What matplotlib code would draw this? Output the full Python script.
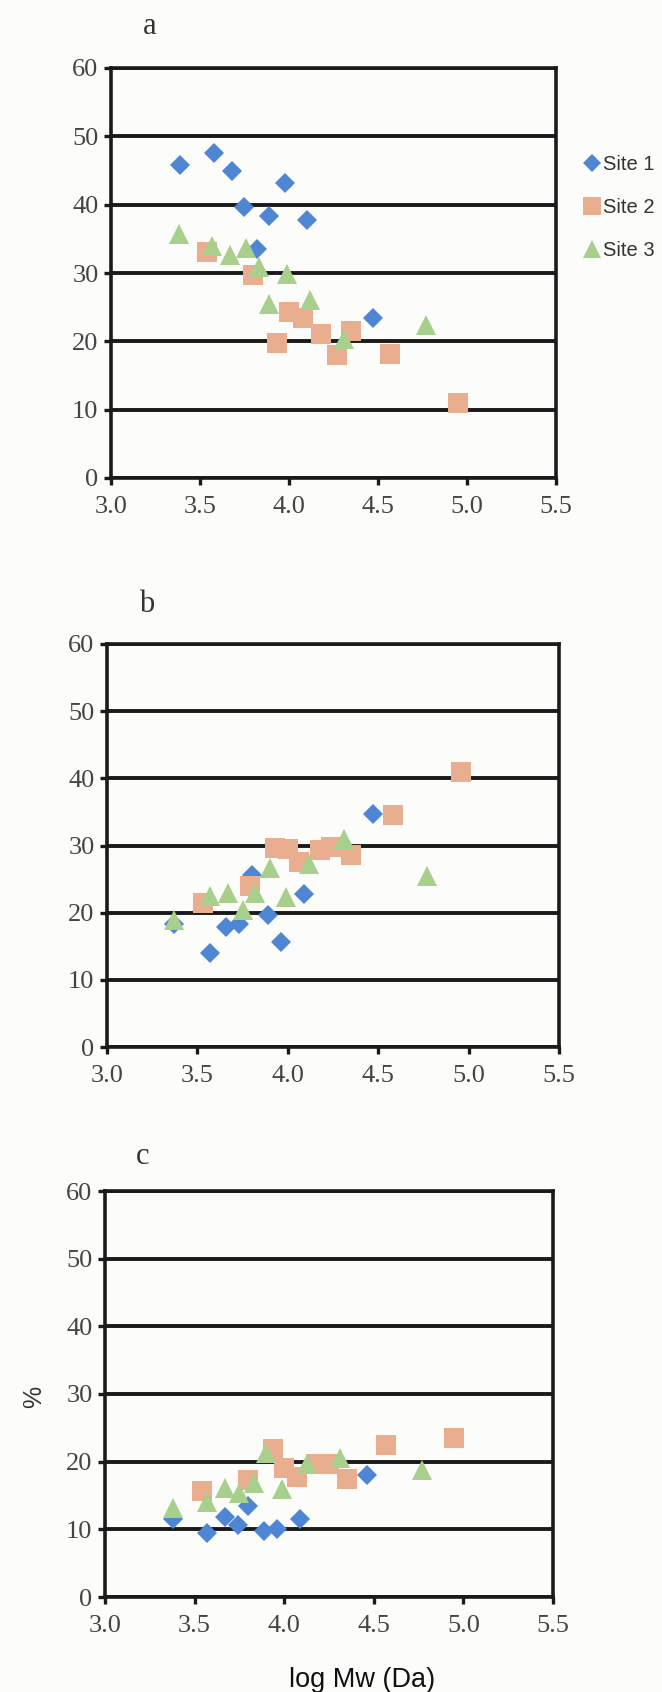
import numpy as np
import matplotlib
matplotlib.use("Agg")
import matplotlib.pyplot as plt

# log Mw (Da) and % for each site, one set per panel
a_site1_x = [3.39, 3.58, 3.68, 3.75, 3.89, 3.98, 4.10, 3.82, 4.47]
a_site1_y = [45.8, 47.5, 44.9, 39.6, 38.4, 43.2, 37.7, 33.5, 23.4]
a_site2_x = [3.54, 3.80, 3.93, 4.00, 4.08, 4.18, 4.27, 4.35, 4.57, 4.95]
a_site2_y = [33.0, 29.7, 19.8, 24.3, 23.4, 21.0, 18.0, 21.5, 18.1, 11.0]
a_site3_x = [3.38, 3.57, 3.67, 3.76, 3.83, 3.99, 3.89, 4.12, 4.31, 4.77]
a_site3_y = [35.7, 34.0, 32.7, 33.6, 30.9, 29.8, 25.5, 26.0, 20.3, 22.4]

b_site1_x = [3.37, 3.57, 3.66, 3.73, 3.80, 3.89, 3.96, 4.09, 4.47]
b_site1_y = [18.3, 14.0, 17.9, 18.3, 25.6, 19.7, 15.7, 22.8, 34.7]
b_site2_x = [3.53, 3.79, 3.93, 4.00, 4.06, 4.18, 4.24, 4.35, 4.58, 4.96]
b_site2_y = [21.4, 23.9, 29.7, 29.5, 27.6, 29.4, 29.8, 28.6, 34.6, 41.0]
b_site3_x = [3.37, 3.57, 3.67, 3.75, 3.82, 3.90, 3.99, 4.12, 4.31, 4.77]
b_site3_y = [18.9, 22.5, 22.9, 20.4, 22.9, 26.6, 22.4, 27.2, 31.0, 25.4]

c_site1_x = [3.38, 3.57, 3.67, 3.74, 3.80, 3.89, 3.96, 4.09, 4.46]
c_site1_y = [11.6, 9.4, 11.8, 10.7, 13.5, 9.8, 10.0, 11.6, 18.1]
c_site2_x = [3.54, 3.80, 3.94, 4.00, 4.07, 4.18, 4.25, 4.35, 4.57, 4.95]
c_site2_y = [15.6, 17.3, 21.9, 19.1, 17.8, 19.6, 19.6, 17.4, 22.5, 23.5]
c_site3_x = [3.38, 3.57, 3.67, 3.75, 3.83, 3.90, 3.99, 4.13, 4.31, 4.77]
c_site3_y = [13.2, 14.0, 16.1, 15.3, 16.9, 21.3, 16.0, 19.6, 20.5, 18.8]

site_names = ["Site 1", "Site 2", "Site 3"]
site_colors = ["#4f86d4", "#e9ad8f", "#a8cf8c"]
site_markers = ["D", "s", "^"]
site_sizes = [10.5, 14, 14]

panel_letters = ["a", "b", "c"]
x_ticks = [3.0, 3.5, 4.0, 4.5, 5.0, 5.5]
y_ticks = [0, 10, 20, 30, 40, 50, 60]

panels = [
    [(a_site1_x, a_site1_y), (a_site2_x, a_site2_y), (a_site3_x, a_site3_y)],
    [(b_site1_x, b_site1_y), (b_site2_x, b_site2_y), (b_site3_x, b_site3_y)],
    [(c_site1_x, c_site1_y), (c_site2_x, c_site2_y), (c_site3_x, c_site3_y)],
]

W, H = 662, 1692
# axes boxes in pixels: left, top, right, bottom
boxes = [(111, 68, 556, 478), (107, 644, 559, 1047), (105, 1191, 553, 1597)]
letter_pos = [(150, 26), (147, 604), (143, 1156)]

fig = plt.figure(figsize=(W / 100, H / 100), dpi=100, facecolor="#fcfcfa")

axes = []
for (l, t, r, b), series, letter, (lx, ly) in zip(boxes, panels, panel_letters, letter_pos):
    ax = fig.add_axes([l / W, 1 - b / H, (r - l) / W, (b - t) / H])
    ax.set_facecolor("#fcfcfa")
    for (xs, ys), name, col, mk, ms in zip(series, site_names, site_colors,
                                            site_markers, site_sizes):
        ax.plot(xs, ys, linestyle="none", marker=mk, markersize=ms,
                color=col, markeredgewidth=0, label=name, zorder=3)
    ax.set_xlim(3.0, 5.5)
    ax.set_ylim(0, 60)
    ax.set_xticks(x_ticks)
    ax.set_xticklabels([f"{v:.1f}" for v in x_ticks])
    ax.set_yticks(y_ticks)
    ax.yaxis.grid(True, color="#1a1a1a", linewidth=2.8)
    ax.set_axisbelow(True)
    for side in ["left", "right", "bottom", "top"]:
        ax.spines[side].set_color("#1a1a1a")
        ax.spines[side].set_linewidth(2.6)
    ax.tick_params(axis="both", direction="out", length=5, width=2.4,
                   color="#1a1a1a", labelsize=19, labelcolor="#444444")
    ax.tick_params(axis="y", pad=4)
    ax.tick_params(axis="x", pad=8)
    for lab in ax.get_xticklabels() + ax.get_yticklabels():
        lab.set_fontfamily("Liberation Serif")
    fig.text(lx / W, 1 - ly / H, letter, ha="center", va="center",
             fontsize=22, family="Liberation Serif", color="#333333")
    axes.append(ax)

# legend beside the top panel
handles, labels = axes[0].get_legend_handles_labels()
fig.legend(handles, labels, loc="upper left",
           bbox_to_anchor=(584 / W, 1 - 155 / H), bbox_transform=fig.transFigure,
           frameon=False, prop={"family": "Liberation Sans", "size": 14.5},
           handlelength=0.8, handletextpad=0.15, labelspacing=1.2,
           borderpad=0, borderaxespad=0, markerscale=0.9, labelcolor="#333333")

ax_c = axes[2]
ax_c.set_xlabel("log Mw (Da)", fontsize=19.5, family="Liberation Sans", color="#111111")
ax_c.xaxis.set_label_coords(0.574, -0.205)
ax_c.xaxis.label.set_verticalalignment("center")
ax_c.set_ylabel("%", fontsize=18, family="Liberation Sans", color="#333333")
ax_c.yaxis.set_label_coords(-0.158, 0.493)
ax_c.yaxis.label.set_verticalalignment("center")

fig.savefig("out.png", dpi=100, facecolor=fig.get_facecolor())
